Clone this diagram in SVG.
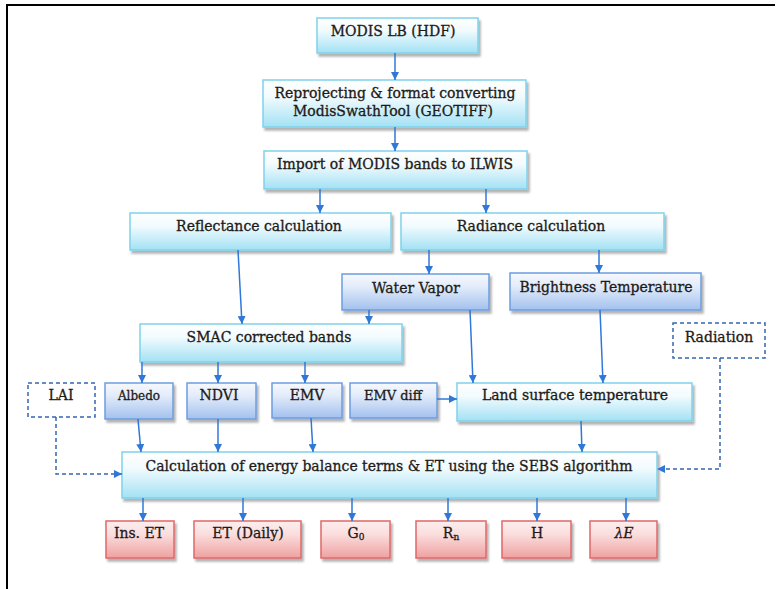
<svg xmlns="http://www.w3.org/2000/svg" width="781" height="589" viewBox="0 0 781 589">
<defs>
<linearGradient id="gc" x1="0" y1="0" x2="0" y2="1"><stop offset="0" stop-color="#ffffff"/><stop offset="0.35" stop-color="#f2fbfe"/><stop offset="1" stop-color="#a3e1f4"/></linearGradient>
<linearGradient id="gb" x1="0" y1="0" x2="0" y2="1"><stop offset="0" stop-color="#f6f9fe"/><stop offset="0.35" stop-color="#e3ecfa"/><stop offset="1" stop-color="#a3c1ee"/></linearGradient>
<linearGradient id="gr" x1="0" y1="0" x2="0" y2="1"><stop offset="0" stop-color="#fdeeee"/><stop offset="0.35" stop-color="#fbdede"/><stop offset="1" stop-color="#eea1a1"/></linearGradient>
<filter id="sh" x="-10%" y="-10%" width="130%" height="140%"><feDropShadow dx="2" dy="3" stdDeviation="0.8" flood-color="#000" flood-opacity="0.3"/></filter>
<marker id="ah" markerWidth="8" markerHeight="8" viewBox="0 0 8 8" refX="8" refY="4" orient="auto" markerUnits="userSpaceOnUse"><path d="M0,0 L8,4 L0,8 z" fill="#2f78d8"/></marker>
<style>
.c{fill:url(#gc);stroke:#7fd2ec;stroke-width:1.5;filter:url(#sh)}
.b{fill:url(#gb);stroke:#6c9de0;stroke-width:1.5;filter:url(#sh)}
.r{fill:url(#gr);stroke:#e06868;stroke-width:1.5;filter:url(#sh)}
.d{fill:#fff;stroke:#3566b2;stroke-width:1.5;stroke-dasharray:4 3}
text{font-family:"DejaVu Serif","Liberation Serif",serif;font-size:14px;fill:#1e1a18;stroke:#1e1a18;stroke-width:0.3;text-anchor:middle}
.s{font-size:12px}
.m{font-size:13px}
.ln{stroke:#2f78d8;stroke-width:1.5;fill:none;marker-end:url(#ah)}
.dl{stroke:#3566b2;stroke-width:1.5;fill:none;stroke-dasharray:4 3;marker-end:url(#ah)}
</style>
</defs>
<g id="frame" stroke="#000" stroke-width="2" fill="none"><path d="M7,589 L7,5 L775,5"/></g>
<g id="modis"><rect class="c" x="317" y="18" width="161" height="35"/><text x="393" y="36">MODIS LB (HDF)</text></g>
<g id="reproj"><rect class="c" x="263" y="80" width="263" height="47"/><text x="395" y="98">Reprojecting &amp; format converting</text><text x="393" y="116">ModisSwathTool (GEOTIFF)</text></g>
<g id="import"><rect class="c" x="264" y="151" width="263" height="38"/><text x="395" y="169">Import of MODIS bands to ILWIS</text></g>
<g id="reflectance"><rect class="c" x="130" y="213" width="261" height="37"/><text x="259" y="231">Reflectance calculation</text></g>
<g id="radiance"><rect class="c" x="401" y="213" width="263" height="37"/><text x="531" y="231">Radiance calculation</text></g>
<g id="watervapor"><rect class="b" x="342" y="274" width="147" height="36"/><text x="416" y="293">Water Vapor</text></g>
<g id="brightness"><rect class="b" x="510" y="273" width="191" height="37"/><text x="606" y="292">Brightness Temperature</text></g>
<g id="smac"><rect class="c" x="140" y="324" width="262" height="38"/><text x="269" y="342">SMAC corrected bands</text></g>
<g id="radiation"><rect class="d" x="673" y="323" width="92" height="35"/><text x="719" y="342">Radiation</text></g>
<g id="lai"><rect class="d" x="28" y="383" width="67" height="34"/><text x="61" y="400">LAI</text></g>
<g id="albedo"><rect class="b" x="105" y="383" width="68" height="36"/><text class="s" x="139" y="400">Albedo</text></g>
<g id="ndvi"><rect class="b" x="187" y="383" width="69" height="36"/><text x="219" y="400">NDVI</text></g>
<g id="emv"><rect class="b" x="272" y="383" width="70" height="35"/><text x="307" y="400">EMV</text></g>
<g id="emvdiff"><rect class="b" x="350" y="383" width="87" height="35"/><text class="m" x="393" y="400">EMV diff</text></g>
<g id="lst"><rect class="c" x="457" y="383" width="235" height="38"/><text x="575" y="400">Land surface temperature</text></g>
<g id="sebs"><rect class="c" x="122" y="452" width="535" height="46"/><text x="389" y="471">Calculation of energy balance terms &amp; ET using the SEBS algorithm</text></g>
<g id="inset"><rect class="r" x="106" y="521" width="68" height="37"/><text x="139" y="538">Ins. ET</text></g>
<g id="etdaily"><rect class="r" x="194" y="521" width="107" height="37"/><text x="248" y="538">ET (Daily)</text></g>
<g id="g0"><rect class="r" x="321" y="521" width="69" height="37"/><text x="356" y="538">G<tspan font-size="9" dy="2">0</tspan></text></g>
<g id="rn"><rect class="r" x="416" y="521" width="70" height="37"/><text x="451" y="538">R<tspan font-size="9" dy="2">n</tspan></text></g>
<g id="h"><rect class="r" x="502" y="521" width="69" height="37"/><text x="537" y="538">H</text></g>
<g id="le"><rect class="r" x="590" y="521" width="67" height="37"/><text x="624" y="538" font-style="italic">λE</text></g>
<g id="connectors">
<path class="ln" d="M395,53 L395,80"/>
<path class="ln" d="M395,127 L395,151"/>
<path class="ln" d="M320,189 L320,213"/>
<path class="ln" d="M486,189 L486,213"/>
<path class="ln" d="M238,250 L242,324"/>
<path class="ln" d="M429,250 L429,274"/>
<path class="ln" d="M599,250 L599,273"/>
<path class="ln" d="M369,310 L369,324"/>
<path class="ln" d="M470,310 L473,383"/>
<path class="ln" d="M600,310 L603,383"/>
<path class="ln" d="M142,362 L142,383"/>
<path class="ln" d="M218,362 L218,383"/>
<path class="ln" d="M305,362 L305,383"/>
<path class="ln" d="M437,399 L457,399"/>
<path class="ln" d="M138,419 L141,452"/>
<path class="ln" d="M218,419 L218,452"/>
<path class="ln" d="M311,418 L313,452"/>
<path class="ln" d="M581,421 L582,452"/>
<path class="dl" d="M56,417 L56,474 L122,474"/>
<path class="dl" d="M720,358 L720,469 L657,469"/>
<path class="ln" d="M143,498 L143,521"/>
<path class="ln" d="M243,498 L243,521"/>
<path class="ln" d="M352,498 L352,521"/>
<path class="ln" d="M448,498 L448,521"/>
<path class="ln" d="M537,498 L537,521"/>
<path class="ln" d="M626,498 L626,521"/>
</g>
</svg>
